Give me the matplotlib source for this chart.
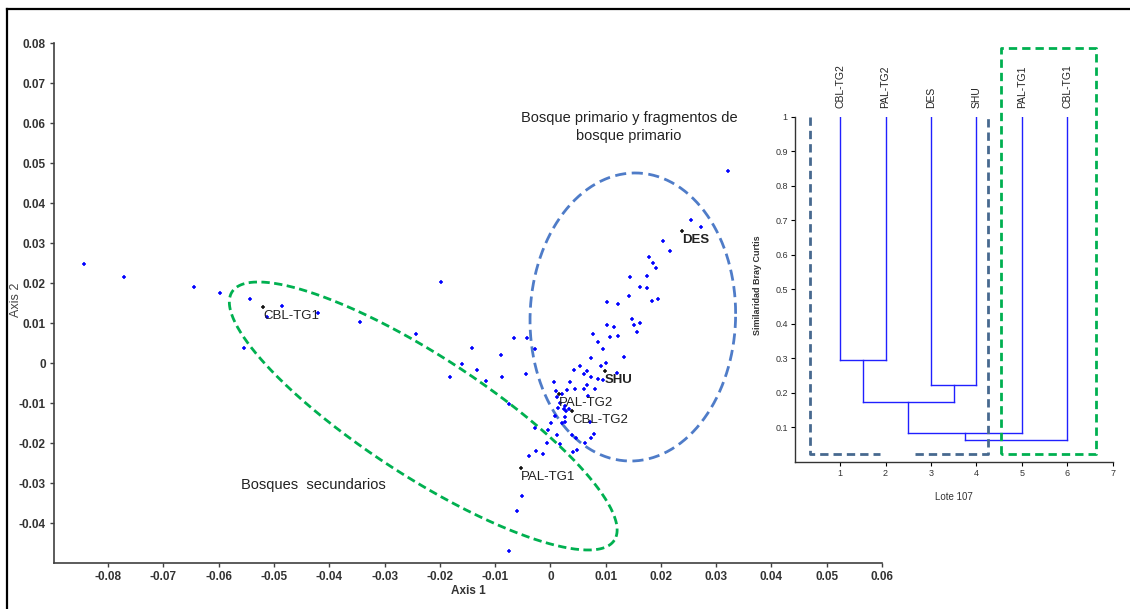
import matplotlib
matplotlib.use("Agg")
import matplotlib.pyplot as plt
from matplotlib.lines import Line2D
import numpy as np

plt.rcParams["font.family"] = ["Liberation Sans", "DejaVu Sans"]

# ── PCoA scores (Axis 1, Axis 2) ─────────────────────────────────────────────
axis1 = [
    -0.0843, -0.0772, -0.0644, -0.0597, -0.0544, -0.0486, -0.0512, -0.0421,
    -0.0344, -0.0555, -0.0197, -0.0243, -0.0142, -0.0159, -0.0182, -0.0132,
    -0.0117, -0.0090, -0.0087, -0.0065, -0.0042, -0.0028, -0.0044, -0.0074,
    -0.0027, -0.0004, -0.0006, -0.0026, -0.0038, -0.0013, 0.0018, 0.0001,
    -0.0052, -0.0060, -0.0075,
    0.0322, 0.0254, 0.0272, 0.0203, 0.0217, 0.0178, 0.0186, 0.0191, 0.0144,
    0.0175, 0.0163, 0.0175, 0.0142, 0.0183, 0.0195, 0.0103, 0.0122, 0.0148,
    0.0162, 0.0152, 0.0157, 0.0102, 0.0115, 0.0122, 0.0107, 0.0077, 0.0086,
    0.0096, 0.0134, 0.0074, 0.0100, 0.0092, 0.0053, 0.0042, 0.0067, 0.0060,
    0.0120, 0.0086, 0.0074, 0.0095, 0.0035, 0.0007, 0.0066, 0.0060, 0.0045,
    0.0031, 0.0010, 0.0081, 0.0069, 0.0021, 0.0012,
    0.0018, 0.0027, 0.0034, 0.0025, 0.0013, 0.0029, 0.0009, 0.0026, 0.0021,
    0.0071, 0.0079, 0.0073, 0.0040, 0.0047, 0.0062, 0.0048, 0.0041, 0.0012,
    0.0027,
]
axis2 = [
    0.0248, 0.0215, 0.0191, 0.0174, 0.0160, 0.0143, 0.0116, 0.0126,
    0.0102, 0.0038, 0.0203, 0.0073, 0.0038, -0.0003, -0.0035, -0.0017,
    -0.0046, 0.0019, -0.0036, 0.0063, 0.0063, 0.0036, -0.0028, -0.0103,
    -0.0163, -0.0168, -0.0201, -0.0219, -0.0233, -0.0228, -0.0203, -0.0149,
    -0.0333, -0.0370, -0.0469,
    0.0480, 0.0358, 0.0340, 0.0306, 0.0279, 0.0265, 0.0251, 0.0238, 0.0215,
    0.0218, 0.0191, 0.0188, 0.0168, 0.0156, 0.0160, 0.0152, 0.0148, 0.0110,
    0.0101, 0.0094, 0.0078, 0.0095, 0.0089, 0.0068, 0.0065, 0.0073, 0.0053,
    0.0034, 0.0014, 0.0013, 0.0001, -0.0008, -0.0008, -0.0018, -0.0019, -0.0028,
    -0.0024, -0.0039, -0.0036, -0.0043, -0.0048, -0.0048, -0.0055, -0.0066, -0.0066,
    -0.0068, -0.0069, -0.0066, -0.0082, -0.0077, -0.0084,
    -0.0099, -0.0108, -0.0116, -0.0115, -0.0112, -0.0120, -0.0133, -0.0134, -0.0151,
    -0.0148, -0.0178, -0.0187, -0.0180, -0.0188, -0.0201, -0.0218, -0.0222, -0.0180,
    -0.0147,
]

# sitios (centroides etiquetados)
site_names = ["CBL-TG1", "DES", "SHU", "PAL-TG2", "CBL-TG2", "PAL-TG1"]
site_ax1 = [-0.0520, 0.0239, 0.0098, 0.0016, 0.0040, -0.0054]
site_ax2 = [0.0139, 0.0330, -0.0021, -0.0078, -0.0120, -0.0262]

x_ticks = [-0.08, -0.07, -0.06, -0.05, -0.04, -0.03, -0.02, -0.01,
           0, 0.01, 0.02, 0.03, 0.04, 0.05, 0.06]
y_ticks = [-0.04, -0.03, -0.02, -0.01, 0, 0.01, 0.02, 0.03, 0.04,
           0.05, 0.06, 0.07, 0.08]

# ── Dendrograma (Bray Curtis) ───────────────────────────────────────────────
leaf_labels = ["CBL-TG2", "PAL-TG2", "DES", "SHU", "PAL-TG1", "CBL-TG1"]
# (cluster a, cluster b, similitud)  -> nuevo cluster 6, 7, ...
merges = [(0, 1, 0.295), (2, 3, 0.222), (6, 7, 0.174), (8, 4, 0.084), (9, 5, 0.063)]

GREEN = "#00B050"
BLUE_E = "#4F7CC8"
SLATE = "#47698F"


def ellipse(ax, center, a_vec, b_vec, **kw):
    t = np.linspace(0, 2 * np.pi, 400)
    ex = center[0] + a_vec[0] * np.cos(t) + b_vec[0] * np.sin(t)
    ey = center[1] + a_vec[1] * np.cos(t) + b_vec[1] * np.sin(t)
    ax.plot(ex, ey, **kw)


fig = plt.figure(figsize=(11.3, 6.09), dpi=100, facecolor="white")

# marco exterior
fig.add_artist(Line2D([7 / 1130, 1], [1 - 9 / 609, 1 - 9 / 609], color="black", lw=1.6))
fig.add_artist(Line2D([7 / 1130, 7 / 1130], [0, 1 - 9 / 609], color="black", lw=1.6))

# ── panel principal ─────────────────────────────────────────────────────────
ax = fig.add_axes([54 / 1130, 1 - 563 / 609, (882 - 54) / 1130, (563 - 43) / 609])
ax.set_xlim(-0.0898, 0.06)
ax.set_ylim(-0.05, 0.08)
ax.spines[["top", "right"]].set_visible(False)
for s in ("left", "bottom"):
    ax.spines[s].set_color("#404040")
    ax.spines[s].set_linewidth(1.2)

ax.set_xticks(x_ticks)
ax.set_xticklabels(["0" if v == 0 else f"{v:g}" for v in x_ticks])
ax.set_yticks(y_ticks)
ax.set_yticklabels(["0" if v == 0 else f"{v:g}" for v in y_ticks])
ax.tick_params(length=3, width=1, color="#404040", labelsize=8.5,
               labelcolor="#333333", pad=3)
for lab in ax.get_xticklabels() + ax.get_yticklabels():
    lab.set_fontweight("bold")

ax.scatter(axis1, axis2, marker="+", s=6, linewidths=1.1, color="#0000FF", zorder=3)
ax.scatter(site_ax1, site_ax2, marker="+", s=6, linewidths=1.1, color="#111111", zorder=4)
for name, sx, sy in zip(site_names, site_ax1, site_ax2):
    bold = name in ("DES", "SHU")
    ax.annotate(name, (sx, sy), xytext=(0, -6.5), textcoords="offset points",
                ha="left", va="center", fontsize=9.5, color="#222222",
                fontweight="bold" if bold else "normal", zorder=5)

# elipses de agrupamiento
ellipse(ax, (-0.0230, -0.01325), (0.03458, -0.03105), (-0.00591, -0.01258),
        color=GREEN, lw=2, linestyle=(0, (3, 1.6)), zorder=2)
ellipse(ax, (0.01492, 0.0115), (0.0186, 0.0008), (0.0, 0.0360),
        color=BLUE_E, lw=2, linestyle=(0, (4, 2)), zorder=2)

ax.text(-0.0560, -0.0305, "Bosques  secundarios", fontsize=10.5, color="#222222",
        ha="left", va="center")
ax.text(0.0142, 0.0591, "Bosque primario y fragmentos de\nbosque primario",
        fontsize=10.5, color="#222222", ha="center", va="center", linespacing=1.35)

ax.set_xlabel("Axis 1", fontsize=8.5, fontweight="bold", color="#333333", labelpad=1)
fig.text(16 / 1130, 1 - 300 / 609, "Axis 2", rotation=90, fontsize=9,
         color="#444444", ha="center", va="center")

# ── dendrograma ─────────────────────────────────────────────────────────────
dx = fig.add_axes([794.7 / 1130, 1 - 462 / 609, 318 / 1130, 345.3 / 609])
dx.set_xlim(0, 7)
dx.set_ylim(0, 1)
dx.spines[["top", "right"]].set_visible(False)
for s in ("left", "bottom"):
    dx.spines[s].set_color("#333333")
    dx.spines[s].set_linewidth(1.0)
dx.set_xticks(range(1, 8))
dx.set_yticks([0.1, 0.2, 0.3, 0.4, 0.5, 0.6, 0.7, 0.8, 0.9, 1.0])
dx.set_yticklabels(["0.1", "0.2", "0.3", "0.4", "0.5", "0.6", "0.7", "0.8", "0.9", "1"])
dx.tick_params(length=3, width=0.8, labelsize=6.5, labelcolor="#333333", pad=2)
dx.patch.set_alpha(0)

pos = {i: i + 1 for i in range(len(leaf_labels))}
height = {i: 1.0 for i in range(len(leaf_labels))}
for k, (a, b, h) in enumerate(merges):
    for c in (a, b):
        dx.plot([pos[c], pos[c]], [height[c], h], color="#2020FF", lw=1)
    dx.plot([pos[a], pos[b]], [h, h], color="#2020FF", lw=1)
    new = len(leaf_labels) + k
    pos[new] = (pos[a] + pos[b]) / 2
    height[new] = h

for i, lab in enumerate(leaf_labels):
    dx.text(i + 1, 1.025, lab, rotation=90, ha="center", va="bottom",
            fontsize=7.5, color="#222222", clip_on=False)

# grupos del dendrograma
dash = (0, (3, 1.8))
dx.plot([0.34, 0.34, 1.88], [1.0, 0.022, 0.022], color=SLATE, lw=2, linestyle=dash)
dx.plot([2.65, 4.26, 4.26], [0.022, 0.022, 1.0], color=SLATE, lw=2, linestyle=dash)
dx.plot([4.54, 4.54, 6.64, 6.64, 4.54], [0.022, 1.2, 1.2, 0.022, 0.022],
        color=GREEN, lw=2, linestyle=dash, clip_on=False)

dx.set_xlabel("Lote 107", fontsize=7, color="#333333", labelpad=10)
fig.text(757 / 1130, 1 - 285 / 609, "Similaridad Bray Curtis", rotation=90,
         fontsize=6.5, fontweight="bold", color="#333333", ha="center", va="center")

fig.savefig("out.png", dpi=100, facecolor="white")
